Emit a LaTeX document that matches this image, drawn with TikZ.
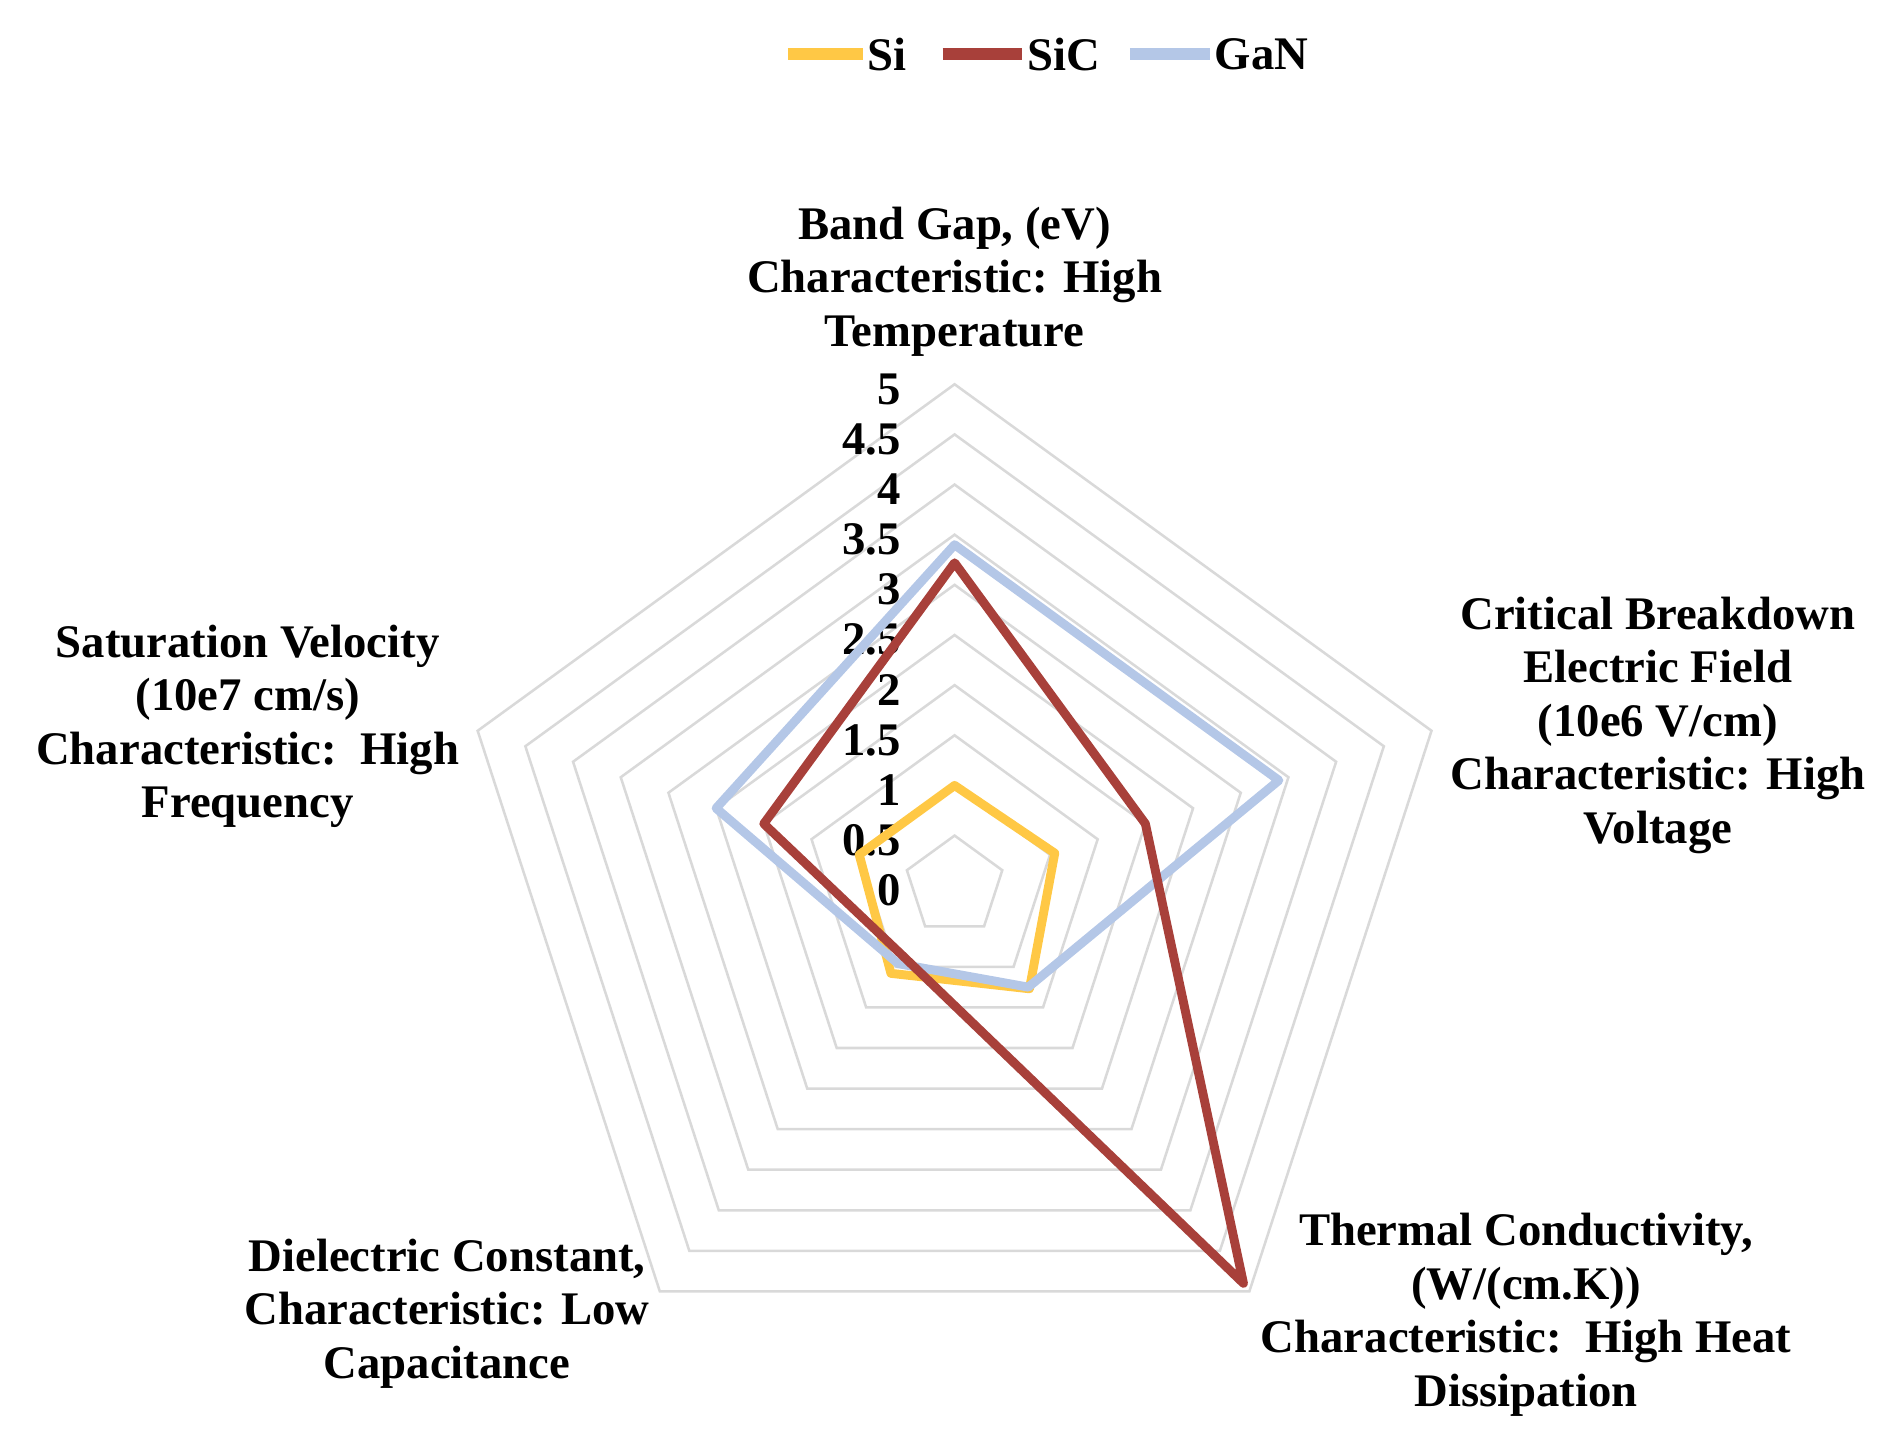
\documentclass[tikz,border=0pt]{standalone}
\usepackage{fontspec}
\setmainfont{Liberation Serif}
\usetikzlibrary{calc}
\definecolor{siY}{HTML}{FFC845}
\definecolor{sicR}{HTML}{A8403A}
\definecolor{ganB}{HTML}{B4C7E7}
\begin{document}
\begin{tikzpicture}[
  lab/.style={align=center,font=\fontsize{11}{12.6}\selectfont\bfseries},
  tick/.style={anchor=east,font=\fontsize{11}{12}\selectfont\bfseries,inner sep=0pt},
  ser/.style={line width=2.1pt,line join=round}]
\useasboundingbox (0,0) rectangle (15.6,11.82);
\coordinate (c) at (7.90,4.49);
\def\u{0.83}
% grid
\foreach \r in {0.5,1,...,5}{
  \draw[gray!30,line width=0.6pt] ($(c)+(90:\r*\u)$) -- ($(c)+(18:\r*\u)$) -- ($(c)+(-54:\r*\u)$) -- ($(c)+(-126:\r*\u)$) -- ($(c)+(162:\r*\u)$) -- cycle;
}
\foreach \r/\t in {0/0,0.5/0.5,1/1,1.5/1.5,2/2,2.5/2.5,3/3,3.5/3.5,4/4,4.5/4.5,5/5}{
  \node[tick] (t\r) at ($(c)+(-0.44,\r*\u-0.04)$) {\t};
}
% series
\draw[ser,siY] ($(c)+(90:1.0*\u)$) -- ($(c)+(18:1.05*\u)$) -- ($(c)+(-54:1.27*\u)$) -- ($(c)+(-126:1.08*\u)$) -- ($(c)+(162:1.0*\u)$) -- cycle;
\draw[ser,ganB] ($(c)+(90:3.4*\u)$) -- ($(c)+(18:3.4*\u)$) -- ($(c)+(-54:1.25*\u)$) -- ($(c)+(-126:0.96*\u)$) -- ($(c)+(162:2.5*\u)$) -- cycle;
\draw[ser,sicR] ($(c)+(90:3.22*\u)$) -- ($(c)+(18:2.0*\u)$) -- ($(c)+(-54:4.9*\u)$) -- ($(c)+(-126:0.87*\u)$) -- ($(c)+(162:2.0*\u)$) -- cycle;
% axis labels
\node[lab] (bg) at (7.90,9.49) {Band Gap, (eV)\\Characteristic: High\\Temperature};
\node[lab] (cb) at (13.72,5.82) {Critical Breakdown\\Electric Field\\(10e6 V/cm)\\Characteristic: High\\Voltage};
\node[lab] (sv) at (2.05,5.81) {Saturation Velocity\\(10e7 cm/s)\\Characteristic:\ \ High\\Frequency};
\node[lab] (dc) at (3.70,0.95) {Dielectric Constant,\\Characteristic: Low\\Capacitance};
\node[lab] (tc) at (12.63,0.94) {Thermal Conductivity,\\(W/(cm.K))\\Characteristic:\ \ High Heat\\Dissipation};
% legend
\coordinate (l1a) at (6.52,11.37); \coordinate (l1b) at (7.14,11.37);
\coordinate (l2a) at (7.80,11.37); \coordinate (l2b) at (8.46,11.37);
\coordinate (l3a) at (9.35,11.37); \coordinate (l3b) at (10.01,11.37);
\draw[ser,siY,line width=2.8pt] (l1a) -- (l1b);
\draw[ser,sicR,line width=2.8pt] (l2a) -- (l2b);
\draw[ser,ganB,line width=2.8pt] (l3a) -- (l3b);
\node[lab,anchor=west,inner sep=1pt] (s1) at (l1b) {Si};
\node[lab,anchor=west,inner sep=1pt] (s2) at (l2b) {SiC};
\node[lab,anchor=west,inner sep=1pt] (s3) at (l3b) {GaN};
\end{tikzpicture}
\end{document}
